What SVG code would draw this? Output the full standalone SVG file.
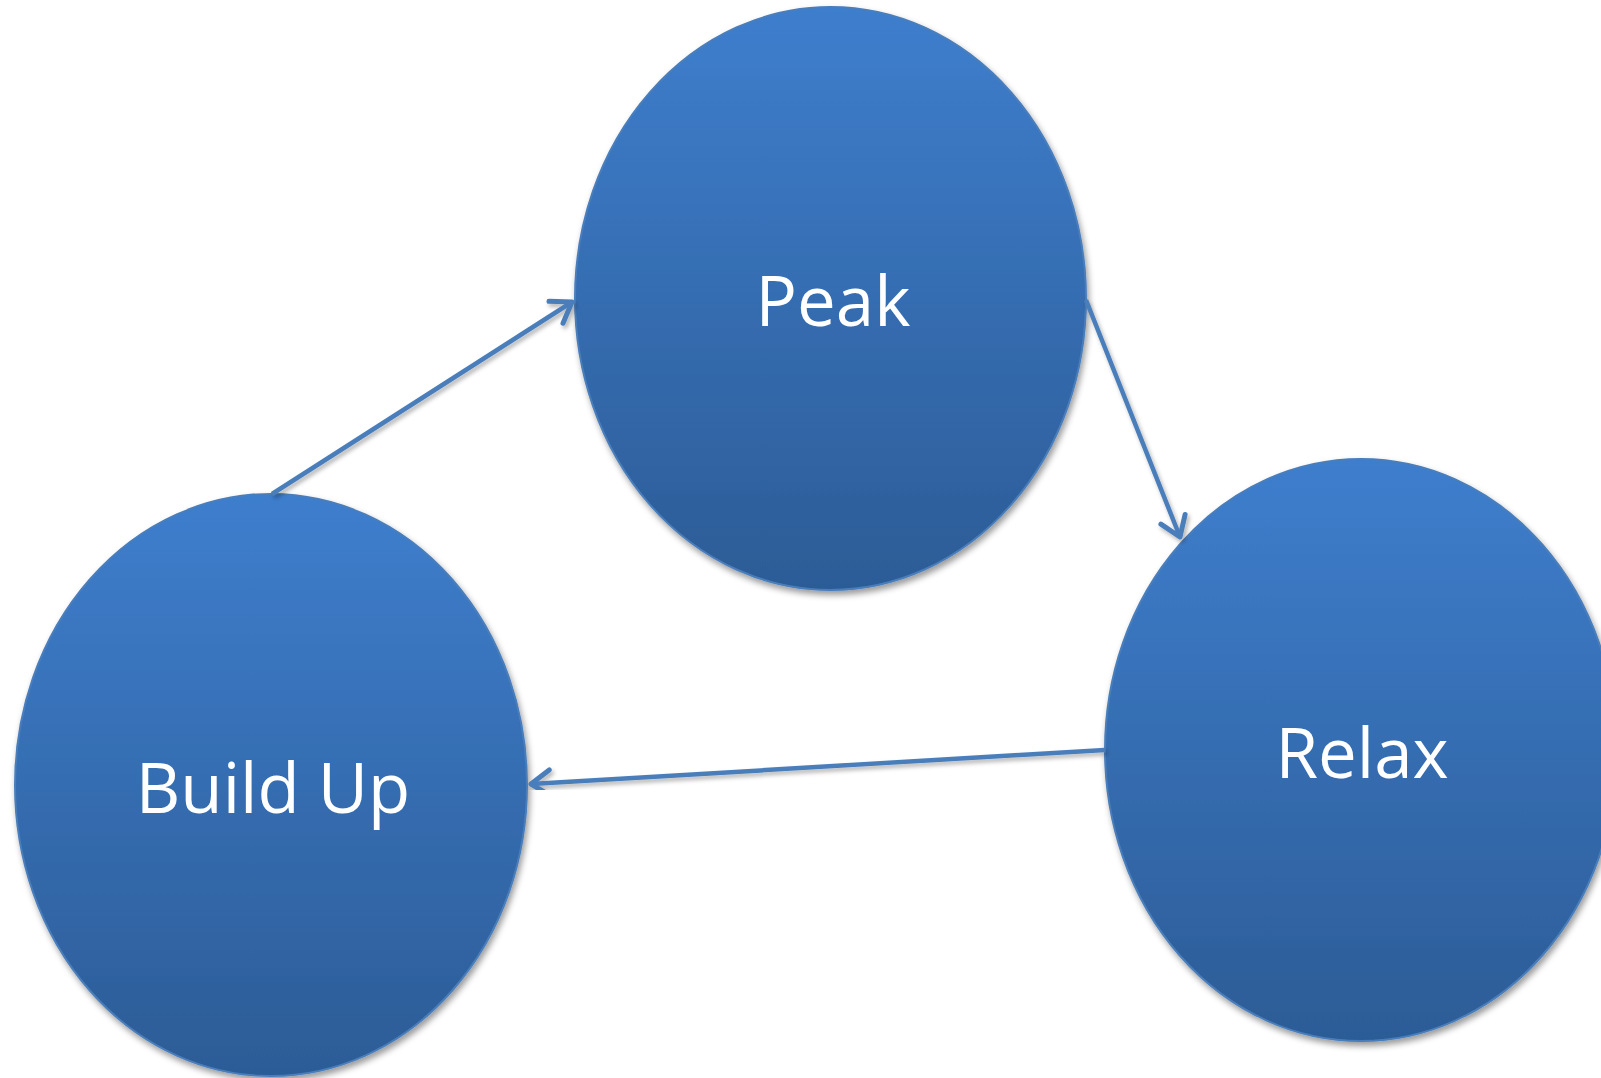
<svg xmlns="http://www.w3.org/2000/svg" width="1601" height="1078" viewBox="0 0 1601 1078">
<style>
.node ellipse{fill:url(#g);stroke:#4a7ebb;stroke-width:2;filter:url(#sh)}
.node text{fill:#fff;font-family:"Open Sans","Noto Sans","Liberation Sans",sans-serif;font-size:69px;text-anchor:middle}
.conn line{stroke:#4a7ebb;stroke-width:4.5;fill:none;marker-end:url(#ah);filter:url(#lsh)}
</style>
<defs>
<linearGradient id="g" x1="0" y1="0" x2="0" y2="1">
<stop offset="0" stop-color="#3e7ecd"/>
<stop offset="1" stop-color="#2c5c96"/>
</linearGradient>
<filter id="sh" x="-10%" y="-10%" width="125%" height="125%">
<feDropShadow dx="2" dy="4" stdDeviation="3" flood-color="#000" flood-opacity="0.4"/>
</filter>
<filter id="lsh" x="-10%" y="-10%" width="125%" height="125%">
<feDropShadow dx="2" dy="3" stdDeviation="2" flood-color="#000" flood-opacity="0.3"/>
</filter>
<marker id="ah" markerUnits="userSpaceOnUse" markerWidth="34" markerHeight="34" viewBox="-26 -17 34 34" refX="0" refY="0" orient="auto">
<path d="M-19,-13 L0,0 L-19,13" fill="none" stroke="#4a7ebb" stroke-width="5" stroke-linecap="round" stroke-linejoin="round"/>
</marker>
</defs>
<g id="node-peak" class="node">
<ellipse cx="830.5" cy="298.5" rx="255.5" ry="291.5"/>
<text x="833" y="326">Peak</text>
</g>
<g id="node-relax" class="node">
<ellipse cx="1361" cy="750" rx="256" ry="291"/>
<text x="1362" y="778">Relax</text>
</g>
<g id="node-buildup" class="node">
<ellipse cx="271" cy="785" rx="256" ry="291"/>
<text x="273" y="813">Build Up</text>
</g>
<g id="connectors" class="conn">
<line x1="272" y1="494" x2="572" y2="302"/>
<line x1="1086" y1="300" x2="1180" y2="537"/>
<line x1="1105" y1="750" x2="531" y2="784"/>
</g>
</svg>
